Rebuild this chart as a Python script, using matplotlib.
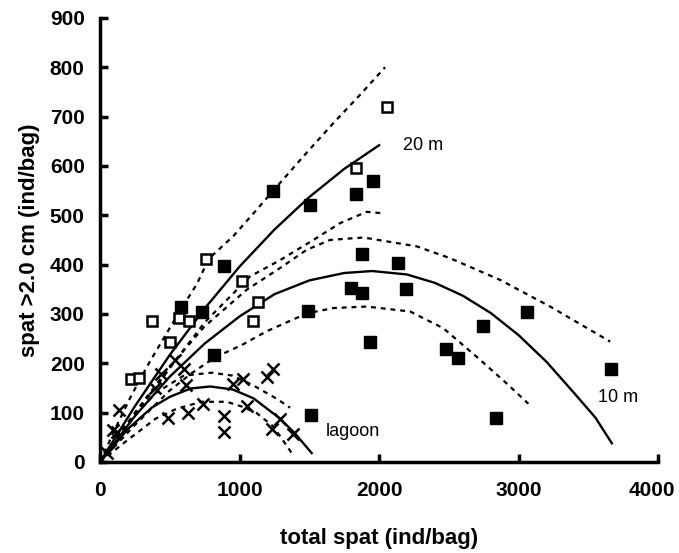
import matplotlib
matplotlib.use("Agg")
import matplotlib.pyplot as plt
import matplotlib.transforms as mtransforms

plt.rcParams['font.family'] = ['Liberation Sans', 'DejaVu Sans']

filled_x = [578, 889, 734, 820, 1238, 1505, 1833, 1957, 1878, 2139, 1797,
            1876, 2196, 1489, 1935, 3063, 2748, 2478, 2569, 3661, 2839, 1510]
filled_y = [315, 397, 304, 216, 549, 520, 543, 570, 422, 404, 353,
            343, 350, 307, 244, 303, 276, 229, 211, 189, 90, 95]

open_x = [2055, 1835, 762, 1016, 1135, 372, 568, 637, 1094, 502, 220, 278]
open_y = [720, 596, 411, 367, 324, 286, 291, 285, 286, 244, 168, 170]

cross_x = [139, 91, 124, 50, 437, 538, 605, 614, 395, 490, 633, 736, 889,
           891, 956, 1022, 1056, 1195, 1243, 1231, 1290, 1381]
cross_y = [105, 65, 60, 18, 178, 207, 188, 155, 150, 89, 99, 118, 94,
           61, 158, 168, 114, 173, 189, 67, 88, 56]

# fitted curves (20 m)
fit20_x = [0, 250, 500, 750, 1000, 1250, 1500, 1750, 2000]
fit20_y = [0, 113, 217, 311, 396, 471, 537, 594, 642]
up20_x = [0, 110, 225, 350, 480, 585, 693, 780, 956, 1100, 1242, 1450, 1673, 1860, 2043]
up20_y = [0, 68, 135, 200, 262, 312, 360, 412, 458, 504, 550, 617, 687, 743, 800]
lo20_x = [0, 250, 500, 750, 1075, 1290, 1529, 1720, 1911, 2031]
lo20_y = [0, 95, 190, 283, 376, 409, 450, 484, 507, 504]

# fitted curves (10 m)
fit10_x = [0, 250, 500, 750, 1000, 1250, 1500, 1750, 1950, 2200, 2400, 2600,
           2800, 3000, 3200, 3400, 3550, 3668]
fit10_y = [0, 93, 173, 240, 295, 340, 368, 383, 387, 380, 363, 337,
           302, 257, 203, 139, 90, 38]
up10_x = [0, 250, 500, 750, 1051, 1290, 1481, 1649, 1888, 2270, 2509, 2867, 3226, 3656]
up10_y = [0, 100, 193, 275, 349, 393, 430, 450, 455, 437, 413, 369, 315, 244]
lo10_x = [0, 250, 500, 657, 824, 1016, 1195, 1481, 1673, 1911, 2222, 2461, 2700, 2915, 3070]
lo10_y = [0, 75, 145, 180, 212, 237, 265, 301, 312, 315, 305, 271, 213, 159, 118]

# fitted curves (lagoon)
fitlag_x = [0, 200, 370, 500, 650, 790, 950, 1100, 1290, 1400, 1517]
fitlag_y = [0, 67, 110, 132, 149, 153, 147, 129, 88, 57, 18]
uplag_x = [0, 200, 400, 600, 800, 950, 1100, 1267, 1362]
uplag_y = [0, 80, 140, 175, 181, 175, 155, 128, 110]
lolag_x = [0, 200, 400, 550, 729, 908, 1020, 1123, 1242, 1374]
lolag_y = [0, 45, 88, 108, 122, 122, 112, 99, 72, 18]

x_ticks = [0, 1000, 2000, 3000, 4000]
y_ticks = [0, 100, 200, 300, 400, 500, 600, 700, 800, 900]

fig = plt.figure(figsize=(6.79, 5.53), dpi=100)
ax = fig.add_axes([0.1473, 0.1646, 0.822, 0.803])

dash = dict(color='black', lw=1.6, linestyle=(0, (2.2, 2.2)))
solid = dict(color='black', lw=1.7)

ax.plot(fit20_x, fit20_y, **solid)
ax.plot(up20_x, up20_y, **dash)
ax.plot(lo20_x, lo20_y, **dash)
ax.plot(fit10_x, fit10_y, **solid)
ax.plot(up10_x, up10_y, **dash)
ax.plot(lo10_x, lo10_y, **dash)
ax.plot(fitlag_x, fitlag_y, **solid)
ax.plot(uplag_x, uplag_y, **dash)
ax.plot(lolag_x, lolag_y, **dash)

ax.plot(filled_x, filled_y, 's', color='black', ms=9, zorder=5)
ax.plot(open_x, open_y, 's', mfc='white', mec='black', mew=1.8, ms=7.5, zorder=5)
ax.plot(cross_x, cross_y, 'x', color='black', ms=8.5, mew=1.8, zorder=5)

ax.text(2170, 641, '20 m', fontsize=13, va='center', ha='left')
ax.text(3570, 130, '10 m', fontsize=13, va='center', ha='left')
ax.text(1620, 61, 'lagoon', fontsize=13, va='center', ha='left')

ax.set_xlim(0, 4000)
ax.set_ylim(0, 900)
ax.set_xticks(x_ticks)
ax.set_yticks(y_ticks)
ax.spines['top'].set_visible(False)
ax.spines['right'].set_visible(False)
ax.spines['left'].set_linewidth(2.5)
ax.spines['bottom'].set_linewidth(2.5)
ax.tick_params(direction='in', length=6, width=2.5, labelsize=15)
ax.tick_params(axis='x', pad=14)
ax.tick_params(axis='y', pad=11)
for lab in ax.get_xticklabels() + ax.get_yticklabels():
    lab.set_fontweight('bold')

# keep the last x label inside the canvas
last = ax.get_xticklabels()[-1]
last.set_transform(last.get_transform() +
                   mtransforms.ScaledTranslation(-6 / 100, 0, fig.dpi_scale_trans))

ax.set_xlabel('total spat (ind/bag)', fontsize=16, fontweight='bold', labelpad=20)
ax.set_ylabel('spat >2.0 cm (ind/bag)', fontsize=16, fontweight='bold', labelpad=7)

fig.savefig('out.png', dpi=100)
